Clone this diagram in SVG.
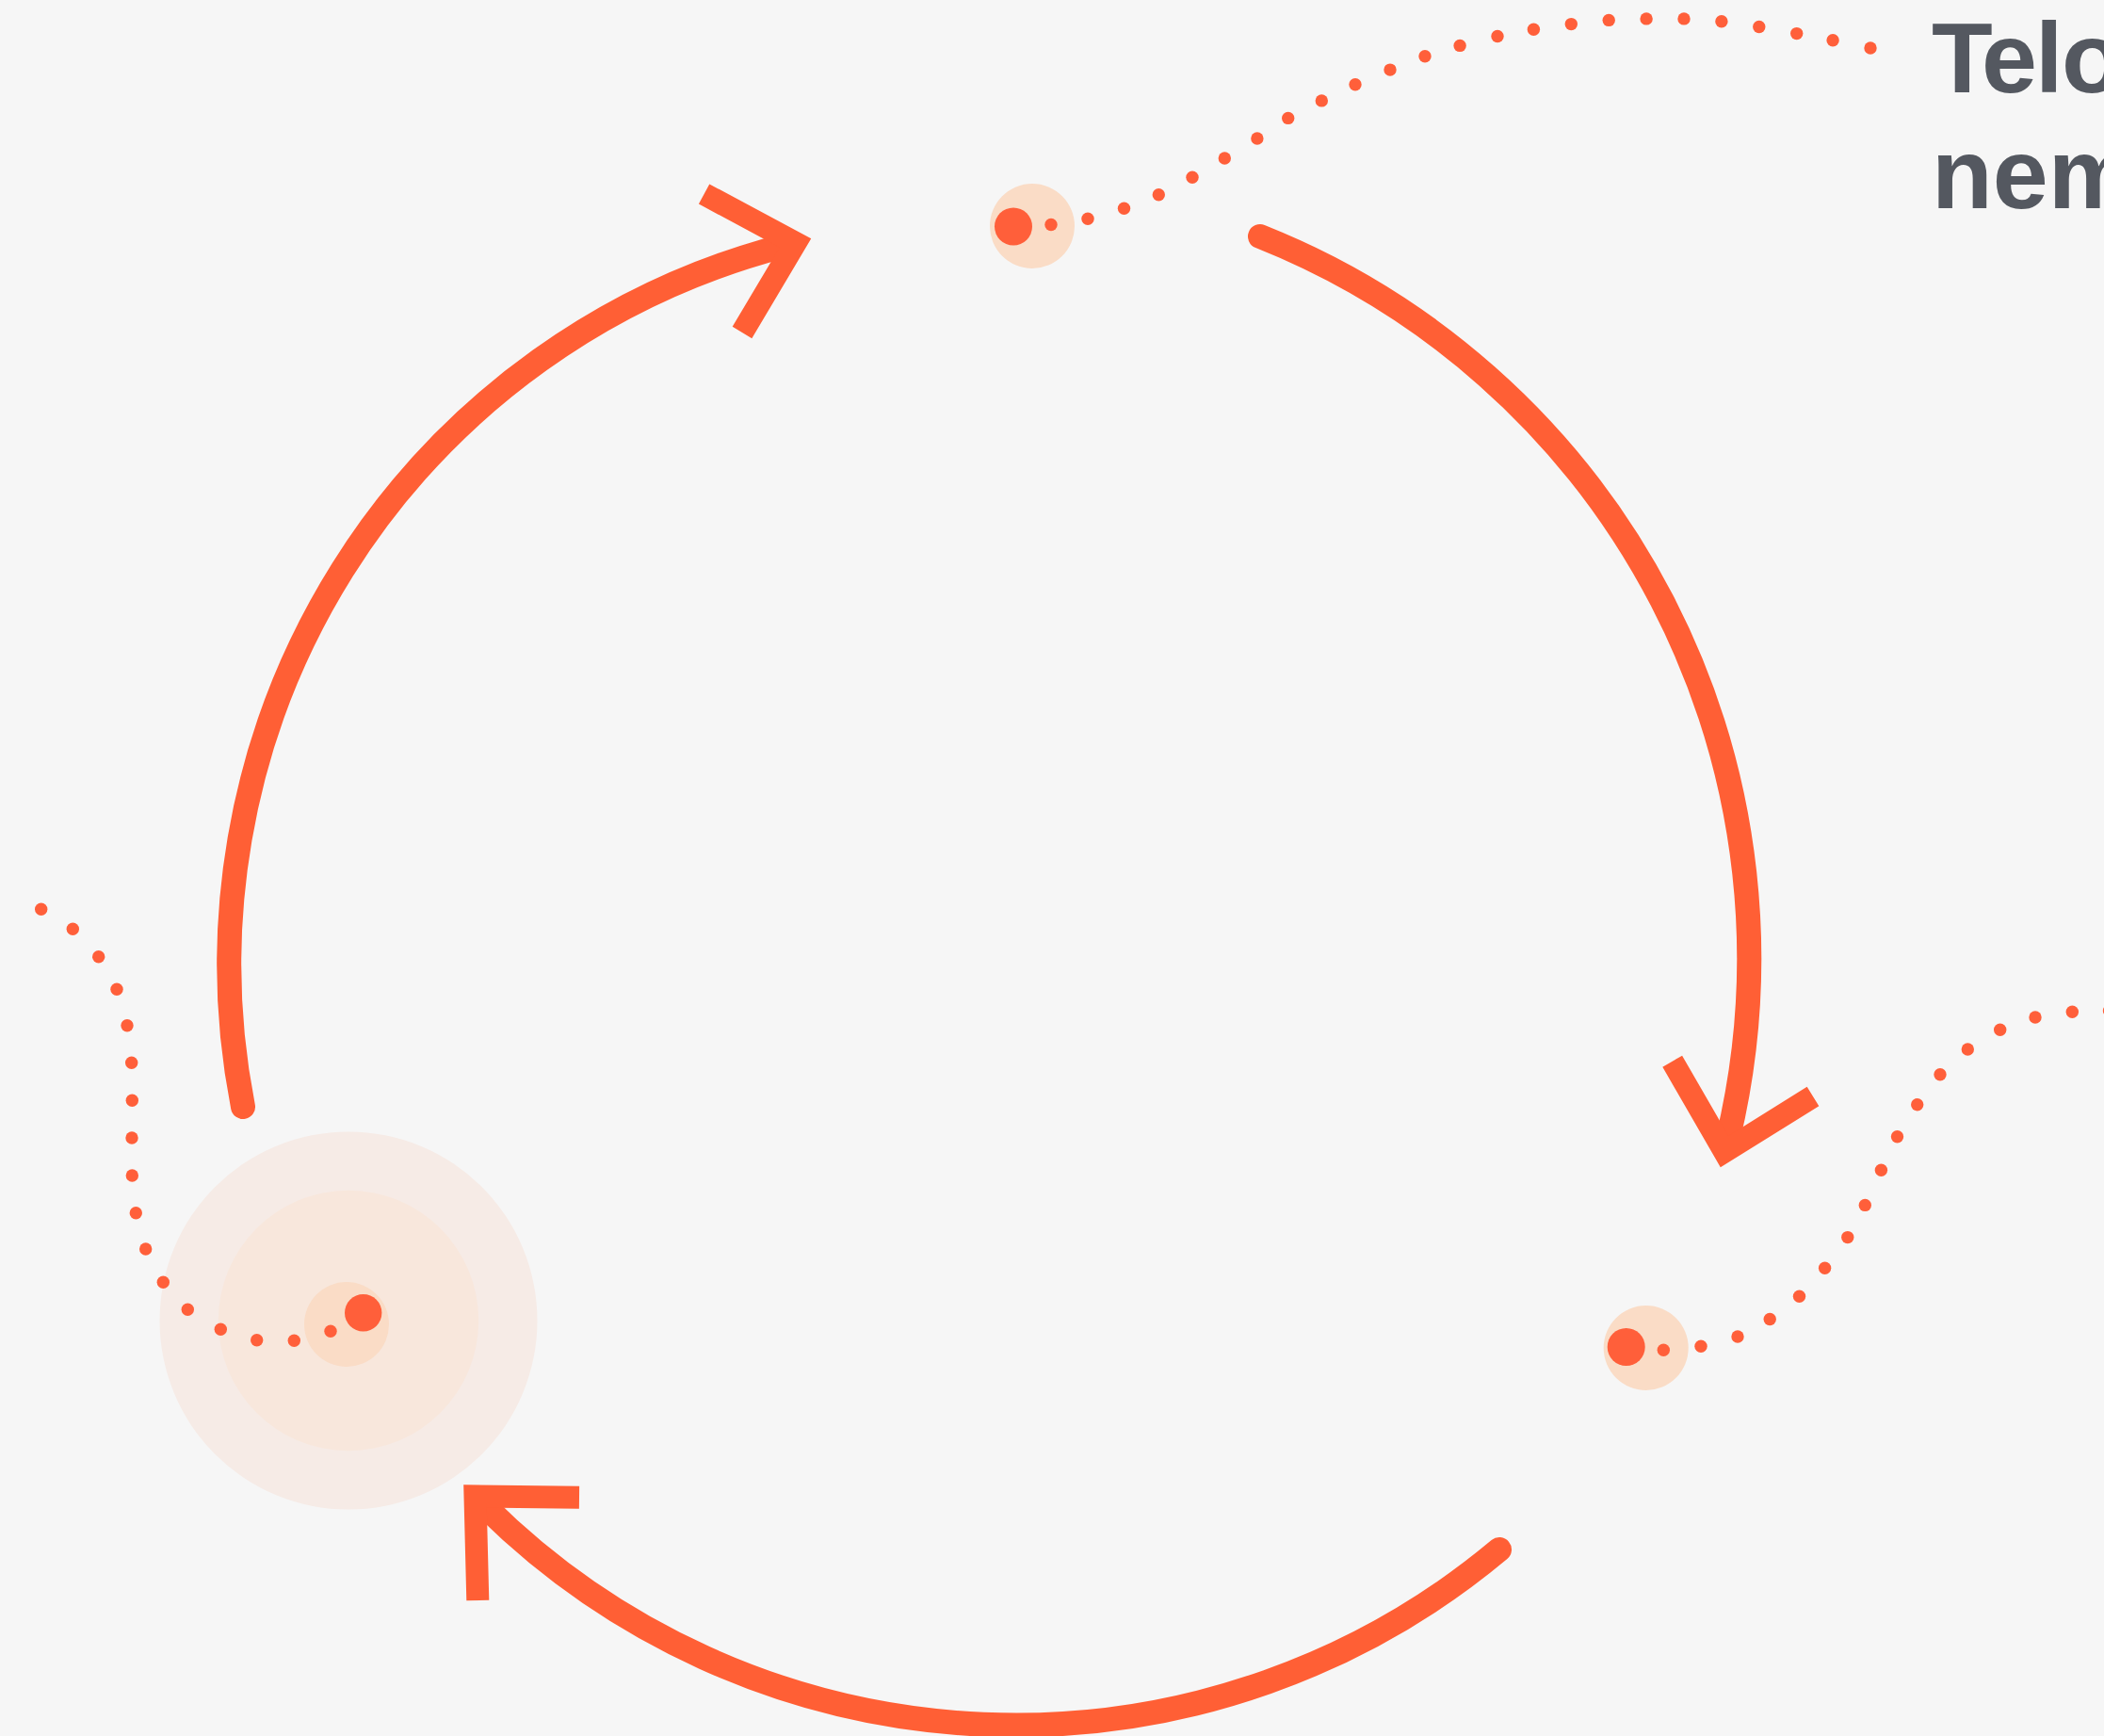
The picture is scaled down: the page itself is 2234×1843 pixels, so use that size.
<svg xmlns="http://www.w3.org/2000/svg" width="2234" height="1843" viewBox="0 0 2234 1843">
<style>
.arc{fill:none;stroke:#ff5f35;stroke-width:26;stroke-linecap:round}
.head{fill:none;stroke:#ff5f35;stroke-width:24;stroke-linejoin:miter;stroke-miterlimit:10;stroke-linecap:butt}
.dot{fill:#ff5f3a}
.halo{fill:#fadcc6}
.core{fill:#ff5f3a}
.label{font-family:"Liberation Sans",Arial,sans-serif;font-weight:bold;font-size:106px;fill:#545860}
</style>
<rect width="2234" height="1843" fill="#f6f6f6"/>
<g id="connectors">
<path class="arc" d="M258,1175 A788,788 0 0 1 830.9,261.4"/>
<polyline class="head" points="747.6,206 844.5,258 788,353"/>
<path class="arc" d="M1338,251 A825,825 0 0 1 1834.6,1209.1"/>
<polyline class="head" points="1775.7,1126.7 1831,1222.6 1925,1164"/>
<path class="arc" d="M1592,1645 A800,800 0 0 1 514.3,1598.5"/>
<polyline class="head" points="507.3,1699 504.5,1588.5 615,1589.7"/>
</g>
<g id="node-top">
<circle class="halo" cx="1096" cy="240" r="45"/>
<circle class="core" cx="1076" cy="240.5" r="20"/>
<g class="dot">
<circle cx="1116" cy="238.5" r="6.7"/>
<circle cx="1155" cy="232.3" r="6.7"/>
<circle cx="1193.5" cy="221.3" r="6.7"/>
<circle cx="1230.3" cy="206.7" r="6.7"/>
<circle cx="1266" cy="188.3" r="6.7"/>
<circle cx="1300.3" cy="168" r="6.7"/>
<circle cx="1334.9" cy="147" r="6.7"/>
<circle cx="1367.7" cy="125.4" r="6.7"/>
<circle cx="1403.3" cy="106.9" r="6.7"/>
<circle cx="1439" cy="89.8" r="6.7"/>
<circle cx="1476" cy="74.1" r="6.7"/>
<circle cx="1513" cy="59.8" r="6.7"/>
<circle cx="1550.1" cy="48.4" r="6.7"/>
<circle cx="1590" cy="38.5" r="6.7"/>
<circle cx="1628.4" cy="31.3" r="6.7"/>
<circle cx="1668.3" cy="25.6" r="6.7"/>
<circle cx="1708.2" cy="21.4" r="6.7"/>
<circle cx="1748.1" cy="19.9" r="6.7"/>
<circle cx="1788" cy="19.9" r="6.7"/>
<circle cx="1827.9" cy="22.8" r="6.7"/>
<circle cx="1867.8" cy="28.5" r="6.7"/>
<circle cx="1907.7" cy="35.6" r="6.7"/>
<circle cx="1946.1" cy="42.7" r="6.7"/>
<circle cx="1986" cy="51" r="6.7"/>
</g>
</g>
<g id="node-right">
<circle class="halo" cx="1747.7" cy="1431" r="45"/>
<circle class="core" cx="1726.7" cy="1430" r="20"/>
<g class="dot">
<circle cx="1766.3" cy="1433.3" r="6.7"/>
<circle cx="1806" cy="1429.3" r="6.7"/>
<circle cx="1845" cy="1419" r="6.7"/>
<circle cx="1879.2" cy="1400.5" r="6.7"/>
<circle cx="1910.5" cy="1376.3" r="6.7"/>
<circle cx="1937.6" cy="1346.3" r="6.7"/>
<circle cx="1961.8" cy="1313.6" r="6.7"/>
<circle cx="1980.3" cy="1279.4" r="6.7"/>
<circle cx="1997.4" cy="1242.3" r="6.7"/>
<circle cx="2014.5" cy="1206.7" r="6.7"/>
<circle cx="2035.7" cy="1172.7" r="6.7"/>
<circle cx="2060" cy="1140.7" r="6.7"/>
<circle cx="2089.3" cy="1114" r="6.7"/>
<circle cx="2123.7" cy="1093.3" r="6.7"/>
<circle cx="2161" cy="1080" r="6.7"/>
<circle cx="2200.3" cy="1074.3" r="6.7"/>
<circle cx="2239.5" cy="1073" r="6.7"/>
</g>
</g>
<g id="node-left">
<circle cx="370" cy="1402" r="200.5" fill="#f6ebe6"/>
<circle cx="370" cy="1402" r="138.2" fill="#f8e7dc"/>
<circle class="halo" cx="368" cy="1406" r="45"/>
<circle class="core" cx="385.7" cy="1393.7" r="19.7"/>
<g class="dot">
<circle cx="351" cy="1413.3" r="6.7"/>
<circle cx="312.3" cy="1423.3" r="6.7"/>
<circle cx="272.7" cy="1422.7" r="6.7"/>
<circle cx="234.3" cy="1411.3" r="6.7"/>
<circle cx="199.3" cy="1390.2" r="6.7"/>
<circle cx="173.3" cy="1361.3" r="6.7"/>
<circle cx="154.7" cy="1326" r="6.7"/>
<circle cx="144.3" cy="1287.7" r="6.7"/>
<circle cx="140.3" cy="1248" r="6.7"/>
<circle cx="140" cy="1208" r="6.7"/>
<circle cx="140.3" cy="1168.3" r="6.7"/>
<circle cx="139.7" cy="1128.3" r="6.7"/>
<circle cx="135" cy="1088.7" r="6.7"/>
<circle cx="124" cy="1050.3" r="6.7"/>
<circle cx="104.7" cy="1015.7" r="6.7"/>
<circle cx="77.3" cy="986.3" r="6.7"/>
<circle cx="43.7" cy="965.3" r="6.7"/>
</g>
</g>
<g id="label-top">
<text class="label" x="2051 2104 2161 2189" y="98">Telo</text>
<text class="label" x="2051" y="221">nem</text>
</g>
</svg>
